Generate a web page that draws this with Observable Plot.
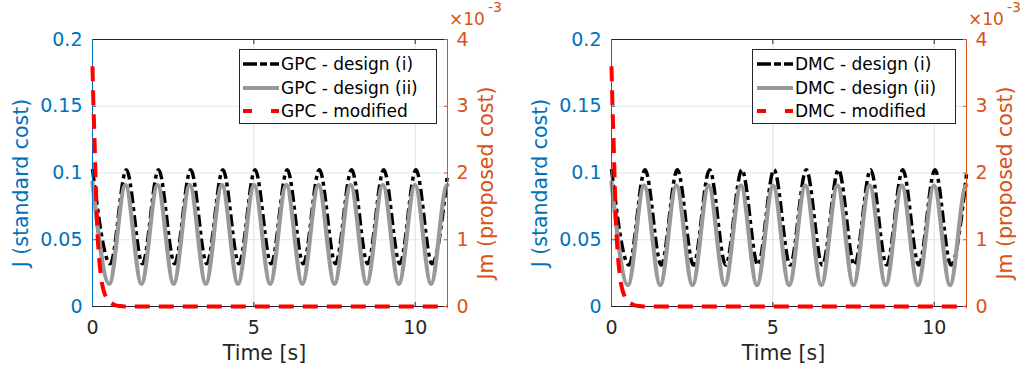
<!DOCTYPE html>
<html>
<head>
<meta charset="utf-8">
<script src="https://cdn.jsdelivr.net/npm/d3@7"></script>
<script src="https://cdn.jsdelivr.net/npm/@observablehq/plot@0.6"></script>
<style>
  body { margin: 0; background: #fff; }
  #c { position: relative; width: 1026px; height: 370px; overflow: hidden; font-family: "DejaVu Sans", sans-serif; }
  #c > svg { position: absolute; top: 0; }
  .lab { position: absolute; white-space: nowrap; font-size: 20.5px; line-height: 1; }
  .rot { transform: translate(-50%, -50%) rotate(-90deg); }
  .hc { transform: translate(-50%, -50%); }
  .exp { line-height: 0.85; }
  .legend { position: absolute; background: #fff; border: 1px solid #262626; box-sizing: border-box; font-size: 17px; color: #000; }
  .legend .row { position: absolute; left: 0; height: 22px; display: flex; align-items: center; }
  .legend svg { display: block; }
</style>
</head>
<body>
<div id="c"></div>
<script>
// ---------- data ----------
const xTicks = [0, 5, 10];
const jTicks = [0, 0.05, 0.1, 0.15, 0.2];
const jmTicks = [0, 1, 2, 3, 4];          // right axis, in units of 10^-3
const panelNames = ["GPC", "DMC"];
const seriesNames = ["design (i)", "design (ii)", "modified"];

// GPC – design (i): start, troughs/peaks, end
const gpcI_t = [0, 0.55, 1.05, 1.547, 2.047, 2.544, 3.044, 3.541, 4.041, 4.538, 5.038, 5.535, 6.035, 6.532, 7.032, 7.529, 8.029, 8.526, 9.026, 9.523, 10.023, 10.52, 11];
const gpcI_J = [0.103, 0.032, 0.1025, 0.032, 0.1025, 0.032, 0.1025, 0.032, 0.1025, 0.032, 0.1025, 0.032, 0.1025, 0.032, 0.1025, 0.032, 0.1025, 0.032, 0.1025, 0.032, 0.1025, 0.032, 0.099];
// GPC – design (ii)
const gpcII_t = [0, 0.52, 1.02, 1.517, 2.017, 2.514, 3.014, 3.511, 4.011, 4.508, 5.008, 5.505, 6.005, 6.502, 7.002, 7.499, 7.999, 8.496, 8.996, 9.493, 9.993, 10.49, 10.99, 11];
const gpcII_J = [0.093, 0.017, 0.091, 0.017, 0.091, 0.017, 0.091, 0.017, 0.091, 0.017, 0.091, 0.017, 0.091, 0.017, 0.091, 0.017, 0.091, 0.017, 0.091, 0.017, 0.091, 0.017, 0.091, 0.0909];
// GPC – modified (Jm, x10^-3)
const gpcM_t = [0, 0.03, 0.06, 0.1, 0.15, 0.2, 0.25, 0.3, 0.35, 0.4, 0.5, 0.6, 0.7, 0.85, 1.0, 11];
const gpcM_Jm = [3.6, 3.0, 2.55, 1.85, 1.15, 0.75, 0.5, 0.33, 0.23, 0.16, 0.085, 0.045, 0.022, 0.007, 0, 0];

// DMC – design (i)
const dmcI_t = [0, 0.54, 1.04, 1.54, 2.04, 2.54, 3.04, 3.54, 4.04, 4.537, 5.037, 5.535, 6.035, 6.532, 7.032, 7.529, 8.029, 8.526, 9.026, 9.523, 10.023, 10.52, 11];
const dmcI_J = [0.103, 0.031, 0.1025, 0.031, 0.1025, 0.031, 0.1025, 0.031, 0.1025, 0.031, 0.1025, 0.031, 0.1025, 0.031, 0.1025, 0.031, 0.1025, 0.031, 0.1025, 0.031, 0.1025, 0.031, 0.099];
// DMC – design (ii)
const dmcII_t = [0, 0.51, 1.01, 1.51, 2.01, 2.51, 3.01, 3.51, 4.01, 4.507, 5.007, 5.505, 6.005, 6.502, 7.002, 7.499, 7.999, 8.496, 8.996, 9.493, 9.993, 10.49, 10.99, 11];
const dmcII_J = [0.093, 0.016, 0.0905, 0.016, 0.0905, 0.016, 0.0905, 0.016, 0.0905, 0.016, 0.0905, 0.016, 0.0905, 0.016, 0.0905, 0.016, 0.0905, 0.016, 0.0905, 0.016, 0.0905, 0.016, 0.0905, 0.0905];
// DMC – modified (Jm, x10^-3)
const dmcM_t = [0, 0.03, 0.06, 0.1, 0.15, 0.2, 0.25, 0.3, 0.35, 0.4, 0.5, 0.6, 0.7, 0.85, 1.0, 11];
const dmcM_Jm = [3.6, 3.0, 2.55, 1.85, 1.15, 0.75, 0.5, 0.33, 0.23, 0.16, 0.085, 0.045, 0.022, 0.007, 0, 0];

// ---------- styling ----------
const BLUE = "#0072BD", ORANGE = "#D95319", DARK = "#262626";
const COL_I = "#000000", COL_II = "#999999", COL_M = "#ff0000";
const DASH_I = "12,4,4,4", DASH_M = "15,9";

const panels = [
  {name: panelNames[0], left: 0, ml: 92, mr: 66,
   I: [gpcI_t, gpcI_J], II: [gpcII_t, gpcII_J], M: [gpcM_t, gpcM_Jm],
   legend: {x: 239, w: 198, lineX: 3, textX: 41}},
  {name: panelNames[1], left: 513, ml: 98, mr: 60,
   I: [dmcI_t, dmcI_J], II: [dmcII_t, dmcII_J], M: [dmcM_t, dmcM_Jm],
   legend: {x: 752, w: 204, lineX: 4, textX: 42}}
];

const W = 513, H = 370, MT = 39, MB = 64;
const root = document.getElementById("c");
const blank = () => "";

for (const p of panels) {
  const common = {
    width: W, height: H, marginLeft: p.ml, marginRight: p.mr, marginTop: MT, marginBottom: MB,
    style: {fontFamily: "DejaVu Sans, sans-serif", fontSize: "19px", background: "transparent", overflow: "visible"}
  };
  const A = Plot.plot({
    ...common,
    x: {domain: [0, 11]},
    y: {domain: [0, 0.2]},
    marks: [
      Plot.gridY(jTicks.slice(1, -1), {stroke: BLUE, strokeOpacity: 0.15}),
      Plot.gridX(xTicks.slice(1), {stroke: DARK, strokeOpacity: 0.15}),
      Plot.axisX(xTicks, {anchor: "bottom", tickSize: 0, tickPadding: 14, fill: DARK, label: null, tickFormat: d => String(d)}),
      Plot.axisX(xTicks, {anchor: "bottom", tickSize: -4, stroke: DARK, label: null, tickFormat: blank}),
      Plot.axisX(xTicks, {anchor: "top", tickSize: -4, stroke: DARK, label: null, tickFormat: blank}),
      Plot.axisY(jTicks, {anchor: "left", tickSize: 0, tickPadding: 10, fill: BLUE, label: null, tickFormat: d => String(d)}),
      Plot.axisY(jTicks, {anchor: "left", tickSize: -4, stroke: BLUE, label: null, tickFormat: blank}),
      Plot.line(p.I[0], {x: p.I[0], y: p.I[1], stroke: COL_I, strokeWidth: 3.5, strokeDasharray: DASH_I, strokeLinecap: "butt", curve: "monotone-x"}),
      Plot.line(p.II[0], {x: p.II[0], y: p.II[1], stroke: COL_II, strokeWidth: 4.2, curve: "monotone-x"}),
      Plot.ruleY([0], {stroke: DARK}),
      Plot.ruleY([0.2], {stroke: DARK}),
      Plot.ruleX([0], {stroke: BLUE})
    ]
  });
  const B = Plot.plot({
    ...common,
    x: {domain: [0, 11], axis: null},
    y: {domain: [0, 4], axis: null},
    marks: [
      Plot.axisY(jmTicks, {anchor: "right", tickSize: 0, tickPadding: 9, fill: ORANGE, label: null, tickFormat: d => String(d)}),
      Plot.axisY(jmTicks, {anchor: "right", tickSize: -4, stroke: ORANGE, label: null, tickFormat: blank}),
      Plot.ruleX([11], {stroke: ORANGE}),
      Plot.line(p.M[0], {x: p.M[0], y: p.M[1], stroke: COL_M, strokeWidth: 4, strokeDasharray: DASH_M, strokeLinecap: "butt", curve: "monotone-x"})
    ]
  });
  A.style.left = p.left + "px";
  B.style.left = p.left + "px";
  root.appendChild(A);
  root.appendChild(B);

  const fx0 = p.left + p.ml, fx1 = p.left + W - p.mr;

  // axis titles
  const t1 = document.createElement("div");
  t1.className = "lab rot"; t1.textContent = "J (standard cost)";
  t1.style.left = (fx0 - 71) + "px"; t1.style.top = "183px"; t1.style.color = BLUE;
  root.appendChild(t1);

  const t2 = document.createElement("div");
  t2.className = "lab rot"; t2.textContent = "Jm (proposed cost)";
  t2.style.left = (fx1 + 39) + "px"; t2.style.top = "183px"; t2.style.color = ORANGE;
  root.appendChild(t2);

  const t3 = document.createElement("div");
  t3.className = "lab hc"; t3.textContent = "Time [s]";
  t3.style.left = ((fx0 + fx1) / 2 - 5) + "px"; t3.style.top = "353px"; t3.style.color = DARK;
  root.appendChild(t3);

  // exponent label: "×10" and superscript "-3" as two separate texts
  const ex = document.createElement("div");
  ex.className = "lab exp"; ex.style.color = ORANGE; ex.style.fontSize = "17px";
  ex.style.left = (fx1 + 2) + "px"; ex.style.top = "12px";
  ex.textContent = "×10";
  root.appendChild(ex);
  const ex2 = document.createElement("div");
  ex2.className = "lab exp"; ex2.style.color = ORANGE; ex2.style.fontSize = "14px";
  ex2.style.left = (fx1 + 41) + "px"; ex2.style.top = "2px";
  ex2.textContent = "-3";
  root.appendChild(ex2);

  // legend
  const lg = document.createElement("div");
  lg.className = "legend";
  lg.style.left = p.legend.x + "px"; lg.style.top = "49px";
  lg.style.width = p.legend.w + "px"; lg.style.height = "75px";
  const rows = [
    {label: `${p.name} - ${seriesNames[0]}`, stroke: COL_I, sw: 3.5, dash: "14,3,7,3,9"},
    {label: `${p.name} - ${seriesNames[1]}`, stroke: COL_II, sw: 4, dash: null},
    {label: `${p.name} - ${seriesNames[2]}`, stroke: COL_M, sw: 4, dash: "9,19"}
  ];
  rows.forEach((r, i) => {
    const row = document.createElement("div");
    row.className = "row";
    row.style.top = (3 + i * 23.5) + "px";
    row.style.left = p.legend.lineX + "px";
    const svg = d3.create("svg").attr("width", p.legend.textX - p.legend.lineX).attr("height", 22);
    svg.append("line").attr("x1", 0).attr("x2", 36).attr("y1", 11).attr("y2", 11)
      .attr("stroke", r.stroke).attr("stroke-width", r.sw)
      .attr("stroke-dasharray", r.dash).attr("stroke-linecap", "butt");
    row.appendChild(svg.node());
    const tx = document.createElement("span");
    tx.textContent = r.label;
    row.appendChild(tx);
    lg.appendChild(row);
  });
  root.appendChild(lg);
}
</script>
</body>
</html>
